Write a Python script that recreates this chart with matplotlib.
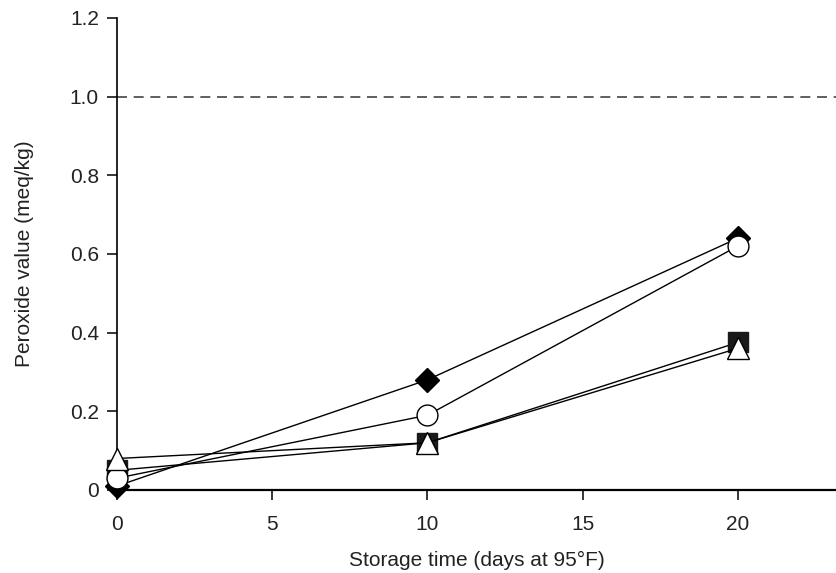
import matplotlib.pyplot as plt

plt.rcParams['font.family'] = ['Liberation Sans', 'DejaVu Sans']

# storage time (days at 95 F)
days = [0, 10, 20]

# peroxide value (meq/kg) per sample
pv_diamond = [0.01, 0.28, 0.64]
pv_square = [0.05, 0.12, 0.375]
pv_circle = [0.03, 0.19, 0.62]
pv_triangle = [0.08, 0.12, 0.36]

limit = 1.0

fig = plt.figure(figsize=(8.37, 5.73), dpi=100)
ax = fig.add_axes([0.1398, 0.1449, 0.8602, 0.8237])

ax.axhline(limit, color='#444444', lw=1.2, dashes=(6, 4), zorder=1)

ax.plot(days, pv_diamond, color='black', lw=1, marker='D', ms=12,
        mfc='black', mec='black', zorder=2)
ax.plot(days, pv_square, color='black', lw=1, marker='s', ms=15,
        mfc='#1a1a1a', mec='#1a1a1a', zorder=3)
ax.plot(days, pv_circle, color='black', lw=1, marker='o', ms=15,
        mfc='white', mec='black', mew=1, zorder=4)
ax.plot(days, pv_triangle, color='black', lw=1, marker='^', ms=16,
        mfc='white', mec='black', mew=1, zorder=5)

ax.set_xlim(0, 23.2)
ax.set_ylim(0, 1.2)
ax.set_xticks([0, 5, 10, 15, 20])
ax.set_yticks([0, 0.2, 0.4, 0.6, 0.8, 1.0, 1.2])
ax.set_yticklabels(['0', '0.2', '0.4', '0.6', '0.8', '1.0', '1.2'])

for side in ['top', 'right']:
    ax.spines[side].set_visible(False)
ax.spines['left'].set_linewidth(1.2)
ax.spines['bottom'].set_linewidth(1.6)
ax.tick_params(direction='out', length=7, width=1.1, labelsize=15,
               labelcolor='#222222')
ax.tick_params(axis='y', pad=6)
ax.tick_params(axis='x', pad=11)

for m in ax.lines:
    m.set_clip_on(False)

ax.set_xlabel('Storage time (days at 95°F)', fontsize=15, labelpad=12,
              color='#222222')
ax.set_ylabel('Peroxide value (meq/kg)', fontsize=15, labelpad=26,
              color='#222222')

fig.savefig('out.png', dpi=100)
